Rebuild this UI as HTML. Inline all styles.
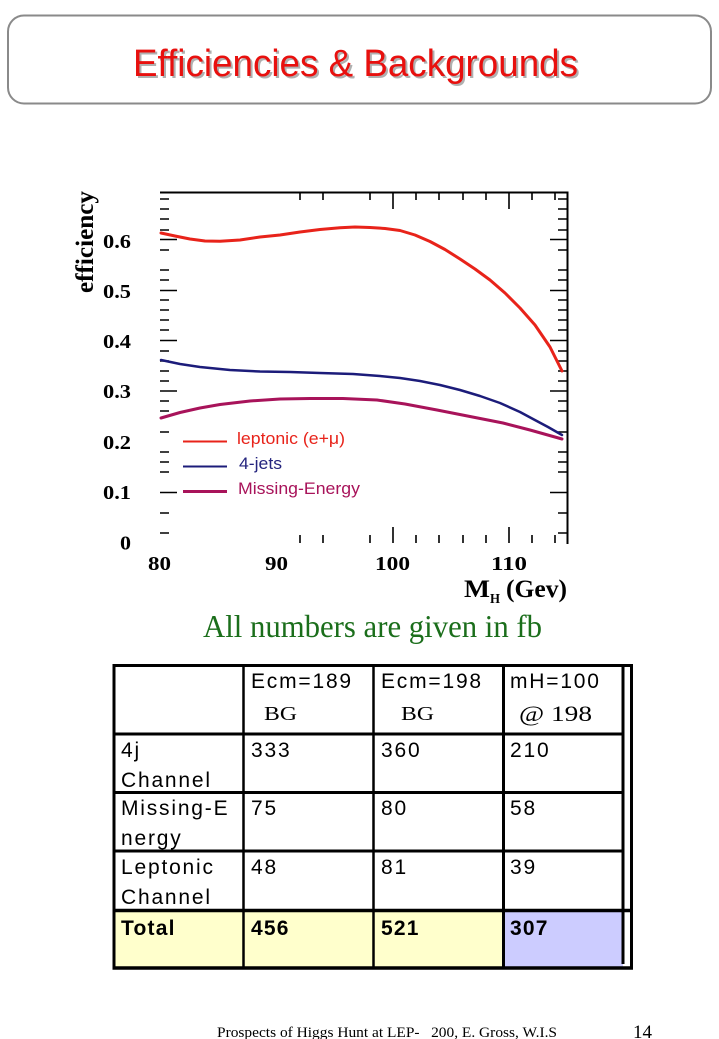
<!DOCTYPE html>
<html>
<head>
<meta charset="utf-8">
<style>
html,body{margin:0;padding:0;background:#fff;}
svg{display:block;}
</style>
</head>
<body>
<svg width="719" height="1039" viewBox="0 0 719 1039" xmlns="http://www.w3.org/2000/svg">
<rect x="0" y="0" width="719" height="1039" fill="#fff"/>

<!-- Title box -->
<rect x="8" y="15.5" width="703" height="88" rx="16" ry="16" fill="#fff" stroke="#8a8a8a" stroke-width="2"/>
<text x="135" y="78" font-family="Liberation Sans, Arial, sans-serif" font-size="38" fill="#b0b0b0" textLength="445" lengthAdjust="spacingAndGlyphs">Efficiencies &amp; Backgrounds</text>
<text x="133" y="76" font-family="Liberation Sans, Arial, sans-serif" font-size="38" fill="#e8100e" textLength="445" lengthAdjust="spacingAndGlyphs">Efficiencies &amp; Backgrounds</text>

<!-- Chart frame -->
<g stroke="#000" fill="none">
  <line x1="160" y1="192.5" x2="568.5" y2="192.5" stroke-width="2"/>
  <line x1="567.5" y1="192" x2="567.5" y2="544" stroke-width="2"/>
  <g stroke-width="1.6">
    <path d="M160 199H169M160 209H169M160 219H169M160 230H169M160 250H169M160 270H169M160 280H169M160 300H169M160 310H169M160 320H169M160 330H169M160 351H169M160 361H169M160 371H169M160 381H169M160 401H169M160 411H169M160 432H169M160 452H169M160 462H169M160 472H169M160 513H169M160 533H169"/>
    <path d="M160 239.5H177M160 290.5H177M160 340.5H177M160 391H177M160 492.5H177"/>
    <path d="M558 199H567M558 209H567M558 219H567M558 230H567M558 250H567M558 270H567M558 280H567M558 300H567M558 310H567M558 320H567M558 330H567M558 351H567M558 361H567M558 371H567M558 381H567M558 401H567M558 411H567M558 432H567M558 452H567M558 462H567M558 472H567M558 513H567M558 533H567"/>
    <path d="M550 239.5H567M550 290.5H567M550 340.5H567M550 391H567M550 492.5H567"/>
    <path d="M300 192V200M323 192V200M370 192V200M416 192V200M439 192V200M463 192V200M486 192V200M532 192V200M555 192V200"/>
    <path d="M393 192V209M509 192V209"/>
    <path d="M300 543V535M323 543V535M370 543V535M416 543V535M439 543V535M463 543V535M486 543V535M532 543V535M555 543V535"/>
    <path d="M393 543V527M509 543V527"/>
  </g>
</g>

<!-- Curves -->
<polyline fill="none" stroke="#e8231a" stroke-width="3" stroke-linejoin="round" stroke-linecap="round"
  points="161,233 175,236 190,239 205,241 220,241.3 240,240 260,237 280,235 300,232 320,229.5 340,227.8 355,227 370,227.5 385,228.5 400,230.5 415,235 430,241.5 445,249.5 460,259 475,269 490,280 505,293 520,308 535,325 550,347 562,371"/>
<polyline fill="none" stroke="#1c1c7a" stroke-width="2.5" stroke-linejoin="round" stroke-linecap="round"
  points="161,360 180,364 200,367 230,370 260,371.5 290,372 320,373 353,374 380,376 400,378 420,381 440,385 460,390 480,396 500,403 520,412 533,419 548,427 562,435"/>
<polyline fill="none" stroke="#a8135a" stroke-width="3" stroke-linejoin="round" stroke-linecap="round"
  points="161,418 180,412.5 200,408 220,404.5 250,401 280,399 310,398.5 343,398.5 377,400 405,404 437,410 470,416.5 503,423 530,430 562,439"/>

<!-- Legend -->
<line x1="183" y1="441.5" x2="227" y2="441.5" stroke="#e8231a" stroke-width="2"/>
<line x1="183" y1="466.5" x2="227" y2="466.5" stroke="#1c1c7a" stroke-width="2"/>
<line x1="183" y1="491.5" x2="227" y2="491.5" stroke="#a8135a" stroke-width="3"/>
<g font-family="Liberation Sans, Arial, sans-serif" font-size="16.5">
  <text x="237" y="444" fill="#e8231a" textLength="108" lengthAdjust="spacingAndGlyphs">leptonic (e+μ)</text>
  <text x="239" y="469" fill="#24247e" textLength="43" lengthAdjust="spacingAndGlyphs">4-jets</text>
  <text x="238" y="494" fill="#a8135a" textLength="122" lengthAdjust="spacingAndGlyphs">Missing-Energy</text>
</g>

<!-- Axis labels -->
<g font-family="Liberation Serif, Times New Roman, serif" font-weight="bold" font-size="20" fill="#000" text-anchor="end">
  <text x="131" y="248" textLength="28" lengthAdjust="spacingAndGlyphs">0.6</text>
  <text x="131" y="298" textLength="28" lengthAdjust="spacingAndGlyphs">0.5</text>
  <text x="131" y="348" textLength="28" lengthAdjust="spacingAndGlyphs">0.4</text>
  <text x="131" y="398" textLength="28" lengthAdjust="spacingAndGlyphs">0.3</text>
  <text x="131" y="449" textLength="28" lengthAdjust="spacingAndGlyphs">0.2</text>
  <text x="131" y="499" textLength="28" lengthAdjust="spacingAndGlyphs">0.1</text>
  <text x="131" y="549.5" textLength="11" lengthAdjust="spacingAndGlyphs">0</text>
</g>
<g font-family="Liberation Serif, Times New Roman, serif" font-weight="bold" font-size="20" fill="#000">
  <text x="148" y="570" textLength="23" lengthAdjust="spacingAndGlyphs">80</text>
  <text x="265" y="570" textLength="23" lengthAdjust="spacingAndGlyphs">90</text>
  <text x="375" y="570" textLength="35" lengthAdjust="spacingAndGlyphs">100</text>
  <text x="491" y="570" textLength="36" lengthAdjust="spacingAndGlyphs">110</text>
</g>
<g font-family="Liberation Serif, Times New Roman, serif" font-weight="bold" fill="#000">
  <text x="464" y="597" font-size="25" textLength="26" lengthAdjust="spacingAndGlyphs">M</text>
  <text x="490" y="603" font-size="14" textLength="10" lengthAdjust="spacingAndGlyphs">H</text>
  <text x="506" y="597" font-size="25" textLength="61" lengthAdjust="spacingAndGlyphs">(Gev)</text>
</g>
<text transform="translate(93,242) rotate(-90)" text-anchor="middle" font-family="Liberation Serif, Times New Roman, serif" font-weight="bold" font-size="25" fill="#000" textLength="102" lengthAdjust="spacingAndGlyphs">efficiency</text>

<!-- Green caption -->
<text x="203" y="637" font-family="Liberation Serif, Times New Roman, serif" font-size="32" fill="#1b6e1b" textLength="339" lengthAdjust="spacingAndGlyphs">All numbers are given in fb</text>

<!-- Table -->
<rect x="114" y="910" width="389" height="58" fill="#ffffcc"/>
<rect x="503" y="910" width="120" height="58" fill="#ccccff"/>
<g stroke="#000" fill="none">
  <line x1="112.5" y1="665.5" x2="633" y2="665.5" stroke-width="3"/>
  <line x1="112.5" y1="734" x2="624" y2="734" stroke-width="3"/>
  <line x1="112.5" y1="792.5" x2="624" y2="792.5" stroke-width="3"/>
  <line x1="112.5" y1="851" x2="624" y2="851" stroke-width="3"/>
  <line x1="112.5" y1="910.5" x2="633" y2="910.5" stroke-width="3.5"/>
  <line x1="112.5" y1="968" x2="633" y2="968" stroke-width="3.5"/>
  <line x1="114" y1="664" x2="114" y2="969.5" stroke-width="3"/>
  <line x1="243.5" y1="664" x2="243.5" y2="969.5" stroke-width="2.5"/>
  <line x1="373.5" y1="664" x2="373.5" y2="969.5" stroke-width="2.5"/>
  <line x1="503.5" y1="664" x2="503.5" y2="969.5" stroke-width="3"/>
  <line x1="623" y1="664" x2="623" y2="964" stroke-width="3"/>
  <line x1="631.5" y1="664" x2="631.5" y2="969.5" stroke-width="3"/>
</g>
<g font-family="Liberation Sans, Arial, sans-serif" font-size="21" fill="#000" letter-spacing="1.8">
  <text x="251" y="688">Ecm=189</text>
  <text x="381" y="688">Ecm=198</text>
  <text x="510" y="688">mH=100</text>
  <text x="121" y="757">4j</text>
  <text x="121" y="787">Channel</text>
  <text x="251" y="757">333</text>
  <text x="381" y="757">360</text>
  <text x="510" y="757">210</text>
  <text x="121" y="815">Missing-E</text>
  <text x="121" y="845">nergy</text>
  <text x="251" y="815">75</text>
  <text x="381" y="815">80</text>
  <text x="510" y="815">58</text>
  <text x="121" y="874">Leptonic</text>
  <text x="121" y="904">Channel</text>
  <text x="251" y="874">48</text>
  <text x="381" y="874">81</text>
  <text x="510" y="874">39</text>
</g>
<g font-family="Liberation Sans, Arial, sans-serif" font-size="21" font-weight="bold" fill="#000" letter-spacing="1.2">
  <text x="121" y="935">Total</text>
  <text x="251" y="935">456</text>
  <text x="381" y="935">521</text>
  <text x="510" y="935">307</text>
</g>
<g font-family="Liberation Serif, Times New Roman, serif" fill="#000">
  <text x="264" y="720" font-size="20" textLength="33" lengthAdjust="spacingAndGlyphs">BG</text>
  <text x="401" y="720" font-size="20" textLength="33" lengthAdjust="spacingAndGlyphs">BG</text>
  <text x="519" y="721" font-size="22" textLength="73" lengthAdjust="spacingAndGlyphs">@ 198</text>
</g>

<!-- Footer -->
<text x="217" y="1037" font-family="Liberation Serif, Times New Roman, serif" font-size="15" fill="#000" textLength="340" lengthAdjust="spacingAndGlyphs" xml:space="preserve">Prospects of Higgs Hunt at LEP-   200, E. Gross, W.I.S</text>
<text x="633" y="1038" font-family="Liberation Serif, Times New Roman, serif" font-size="19" fill="#000" textLength="19" lengthAdjust="spacingAndGlyphs">14</text>
</svg>
</body>
</html>
